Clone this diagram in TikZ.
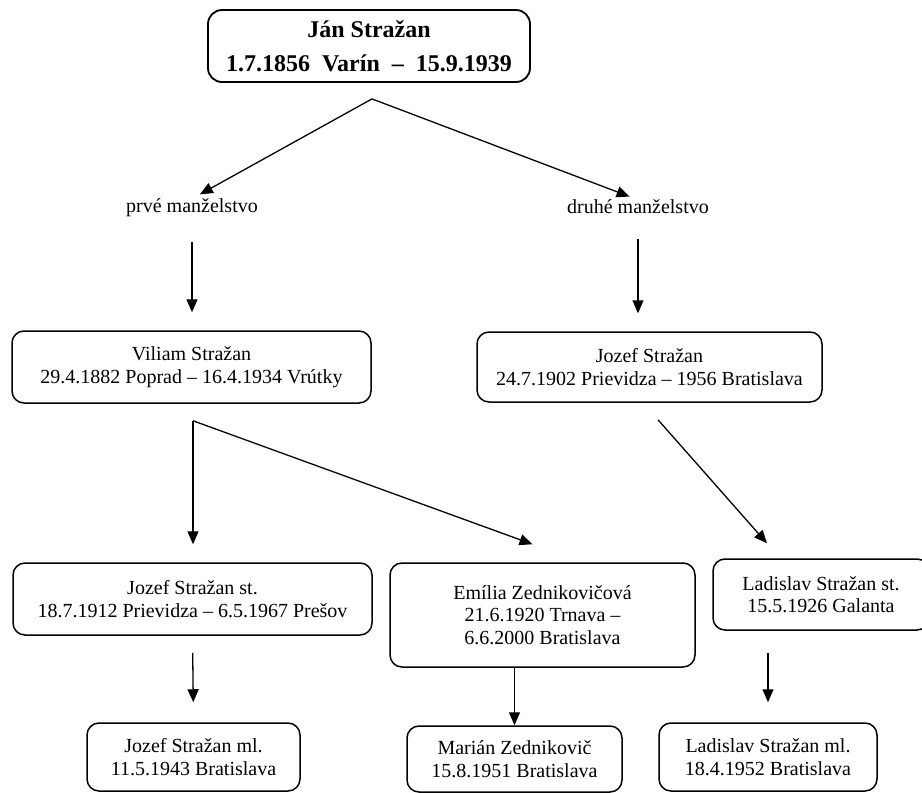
\documentclass[tikz,border=0pt]{standalone}
\usepackage{fontspec}
\setmainfont{Liberation Serif}
\usetikzlibrary{arrows.meta}

\begin{document}
\begin{tikzpicture}[
        x=1pt, y=-1pt,
        person/.style={draw, rounded corners=12pt, line width=1.5pt, align=center, inner sep=0pt,
            minimum height=72pt, font=\fontsize{20}{22.5}\selectfont},
        marriage/.style={inner sep=0pt, font=\fontsize{20}{22.5}\selectfont},
        arr/.style={-{Triangle[length=13pt,width=11pt]}, line width=1.3pt}
    ]
        \useasboundingbox (0,0) rectangle (922,793);

        \node[person, line width=1.8pt, rounded corners=14pt, minimum width=322pt,
            font=\bfseries\fontsize{24}{34}\selectfont] (jan) at (369,46)
            {Ján Stražan\\1.7.1856~~Varín~~–~~15.9.1939};

        \node[marriage] (prve) at (192,208) {prvé manželstvo};
        \node[marriage] (druhe) at (638,207) {druhé manželstvo};

        \node[person, minimum width=359pt] (viliam) at (191.5,367) {Viliam Stražan\\29.4.1882 Poprad – 16.4.1934 Vrútky};
        \node[person, minimum width=345pt, minimum height=70pt] (jozef) at (649.5,367) {Jozef Stražan\\24.7.1902 Prievidza – 1956 Bratislava};

        \node[person, minimum width=359pt] (jozefst) at (192.5,599) {Jozef Stražan st.\\18.7.1912 Prievidza – 6.5.1967 Prešov};
        \node[person, minimum width=305pt, minimum height=104pt] (emilia) at (542.5,615) {Emília Zednikovičová\\21.6.1920 Trnava –\\6.6.2000 Bratislava};
        \node[person, minimum width=216pt, minimum height=71pt] (ladislavst) at (821,594.5) {Ladislav Stražan st.\\15.5.1926 Galanta};

        \node[person, minimum width=213pt, minimum height=68pt] (jozefml) at (193.5,757) {Jozef Stražan ml.\\11.5.1943 Bratislava};
        \node[person, minimum width=215pt, minimum height=66pt] (marian) at (514.5,759) {Marián Zednikovič\\15.8.1951 Bratislava};
        \node[person, minimum width=218pt, minimum height=68pt] (ladislavml) at (768,757) {Ladislav Stražan ml.\\18.4.1952 Bratislava};

        \coordinate (jansplit) at ([xshift=3pt,yshift=-16pt]jan.south);
        \draw[arr, shorten >=9pt] (jansplit) -- (prve.north);
        \draw[arr, shorten >=9pt] (jansplit) -- (druhe.north);
        \draw[arr, shorten <=25pt, shorten >=18pt] (prve.south) -- (prve.south |- viliam.north);
        \draw[arr, shorten <=25pt, shorten >=18pt] (druhe.south) -- (druhe.south |- jozef.north);

        \coordinate (viliamsplit) at ([xshift=1.5pt,yshift=-17pt]viliam.south);
        \draw[arr, shorten >=18pt] (viliamsplit) -- (viliamsplit |- jozefst.north);
        \draw[arr] (viliamsplit) -- ([xshift=-10pt,yshift=18pt]emilia.north);

        \coordinate (jozefsplit) at ([xshift=8.5pt,yshift=-17pt]jozef.south);
        \draw[arr] (jozefsplit) -- ([xshift=-54pt,yshift=15pt]ladislavst.north);

        \draw[arr, shorten <=17pt, shorten >=20pt] (jozefst.south) -- (jozefml.north);
        \draw[arr] (emilia.south -| marian.north) -- (marian.north);
        \draw[arr, shorten <=22pt, shorten >=20pt] (ladislavst.south -| ladislavml.north) -- (ladislavml.north);
    \end{tikzpicture}
\end{document}
